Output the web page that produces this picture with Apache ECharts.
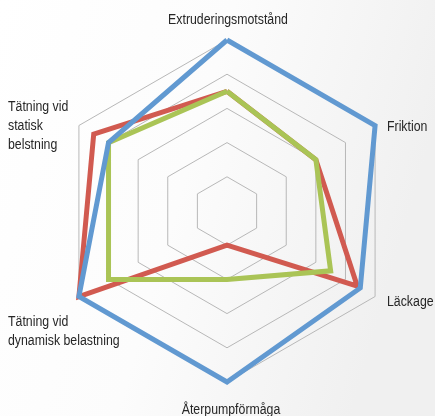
<!DOCTYPE html>
<html>
<head>
<meta charset="utf-8">
<script src="https://cdn.jsdelivr.net/npm/echarts@6/dist/echarts.min.js"></script>
<style>
html,body{margin:0;padding:0;}
#c{width:435px;height:416px;}
</style>
</head>
<body>
<div id="c"></div>
<script>
// Indicators in counter-clockwise order starting at top
var indicators = ['Extruderingsmotstånd', 'Tätning vid\nstatisk\nbelstning', 'Tätning vid\ndynamisk belastning', 'Återpumpförmåga', 'Läckage', 'Friktion'];
var maxValue = 5;
var seriesBlue = [5, 4, 5, 5, 4.5, 5];
var seriesRed = [3.5, 4.5, 5, 1, 4.4, 3];
var seriesGreen = [3.5, 4, 4, 2, 3.5, 3];

var FONT = '"Liberation Sans", Arial, sans-serif';
var chart = echarts.init(document.getElementById('c'), null, {renderer: 'canvas'});

var labelPos = [
  {x: 228, y: 20, align: 'center'},
  {x: 8, y: 126, align: 'left'},
  {x: 8, y: 332, align: 'left'},
  {x: 231, y: 410, align: 'center'},
  {x: 387, y: 302, align: 'left'},
  {x: 387, y: 127, align: 'left'}
];

var graphics = [{
  type: 'rect', z: -10, silent: true,
  shape: {x: 0, y: 0, width: 435, height: 416},
  style: {fill: new echarts.graphic.LinearGradient(0, 0, 1, 0.3, [
    {offset: 0, color: '#ffffff'}, {offset: 0.5, color: '#fcfcfc'}, {offset: 1, color: '#f0f0f0'}])}
}];
indicators.forEach(function (name, i) {
  graphics.push({
    type: 'text', silent: true,
    x: labelPos[i].x, y: labelPos[i].y, scaleX: 0.88,
    style: {text: name, font: '14px ' + FONT, fill: '#262626', align: labelPos[i].align, verticalAlign: 'middle', lineHeight: 19}
  });
});

function mkSeries(name, data, color) {
  return {
    type: 'radar', name: name, symbol: 'none',
    lineStyle: {color: color, width: 5, join: 'miter'},
    itemStyle: {color: color},
    data: [{value: data, name: name}]
  };
}

chart.setOption({
  animation: false,
  graphic: graphics,
  radar: {
    center: [227, 211],
    radius: 171,
    startAngle: 90,
    splitNumber: 5,
    shape: 'polygon',
    indicator: indicators.map(function (n) { return {name: n, max: maxValue, min: 0}; }),
    axisName: {show: false},
    axisLine: {show: false},
    splitArea: {show: false},
    splitLine: {lineStyle: {color: '#b8b8b8', width: 1}}
  },
  series: [
    mkSeries('Serie 2', seriesRed, '#d15a50'),
    mkSeries('Serie 3', seriesGreen, '#aac456'),
    mkSeries('Serie 1', seriesBlue, '#6199d1')
  ]
});
</script>
</body>
</html>
